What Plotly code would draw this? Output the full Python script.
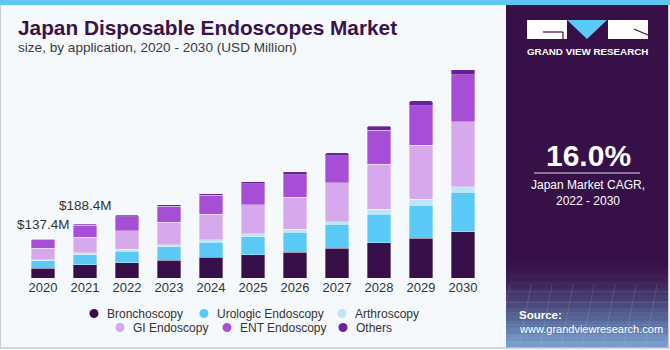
import plotly.graph_objects as go

# ---------------- data ----------------
years = ["2020", "2021", "2022", "2023", "2024", "2025", "2026", "2027", "2028", "2029", "2030"]
bronchoscopy = [33.8, 46.2, 53.6, 63.0, 72.1, 81.6, 91.0, 105.0, 123.6, 140.0, 162.0]
urologic = [26.0, 34.7, 39.6, 46.6, 53.9, 63.0, 68.6, 82.6, 99.0, 115.5, 137.6]
arthroscopy = [4.6, 6.9, 7.0, 7.0, 8.0, 10.5, 11.9, 9.5, 18.9, 19.6, 20.0]
gi = [39.8, 55.5, 65.5, 78.0, 90.0, 100.5, 112.0, 135.5, 157.5, 190.4, 227.5]
ent = [30.6, 40.6, 49.0, 56.0, 65.1, 74.6, 78.0, 94.5, 117.6, 137.6, 163.5]
others = [2.6, 4.5, 4.6, 6.0, 6.0, 7.0, 10.5, 10.5, 15.4, 16.5, 18.6]

series_names = ["Bronchoscopy", "Urologic Endoscopy", "Arthroscopy",
                "GI Endoscopy", "ENT Endoscopy", "Others"]
series_values = [bronchoscopy, urologic, arthroscopy, gi, ent, others]
series_colors = ["#37104A", "#5BC9F5", "#BDE7F7", "#D6A8EC", "#A64FD6", "#6C1F9C"]

label_years = ["2020", "2021"]
label_texts = ["$137.4M", "$188.4M"]

title_text = "Japan Disposable Endoscopes Market"
subtitle_text = "size, by application, 2020 - 2030 (USD Million)"
cagr_text = "16.0%"
cagr_caption = "Japan Market CAGR,<br>2022 - 2030"
brand_text = "GRAND VIEW RESEARCH"
source_label = "Source:"
source_url = "www.grandviewresearch.com"

# ---------------- layout geometry (pixels) ----------------
W, H = 670, 350
ML, MR, MT, MB = 22, 186, 62, 72
PW = W - ML - MR
PH = H - MT - MB
FONT = "Liberation Sans, Arial, sans-serif"


def px(x):
    return (x - ML) / PW


def py(y):
    return (H - MB - y) / PH


fig = go.Figure()
for name, vals, col in zip(series_names, series_values, series_colors):
    fig.add_trace(go.Bar(
        x=years, y=vals, name=name,
        marker=dict(color=col, line=dict(color="rgba(255,255,255,0.55)", width=0.6)),
        showlegend=False, hovertemplate="%{x}: %{y}<extra>" + name + "</extra>",
    ))

shapes = []
annotations = []

# top strip and borders
shapes.append(dict(type="rect", xref="paper", yref="paper", x0=px(0), x1=px(W), y0=py(5), y1=py(0),
                   fillcolor="#5EC6F0", line=dict(width=0), layer="below"))
shapes.append(dict(type="line", xref="paper", yref="paper", x0=px(0.5), x1=px(0.5), y0=py(5), y1=py(348),
                   line=dict(color="#C8CDD2", width=1)))
shapes.append(dict(type="line", xref="paper", yref="paper", x0=px(0), x1=px(W), y0=py(348), y1=py(348),
                   line=dict(color="#C8CDD2", width=1.5)))

# right panel
shapes.append(dict(type="rect", xref="paper", yref="paper", x0=px(506), x1=px(668), y0=py(347), y1=py(5),
                   fillcolor="#371047", line=dict(width=0)))
grad = ["#391349", "#3B184E", "#3E1F55", "#40285C", "#433265", "#473D70", "#4B497B",
        "#505688", "#566495", "#5D72A3", "#6581B1", "#6E8FBF", "#789DCB"]
y_start, y_end = 262, 347
step = (y_end - y_start) / len(grad)
for i, c in enumerate(grad):
    shapes.append(dict(type="rect", xref="paper", yref="paper", x0=px(506), x1=px(668),
                       y0=py(y_start + (i + 1) * step + 0.5), y1=py(y_start + i * step),
                       fillcolor=c, line=dict(width=0)))
# faint grid in panel bottom
for k in range(8):
    xx = 510 + k * 21
    shapes.append(dict(type="line", xref="paper", yref="paper", x0=px(xx), x1=px(xx - 12), y0=py(285), y1=py(347),
                       line=dict(color="rgba(200,220,255,0.15)", width=1)))
for yy in [292, 302, 313, 325, 338]:
    shapes.append(dict(type="line", xref="paper", yref="paper", x0=px(506), x1=px(668), y0=py(yy), y1=py(yy),
                       line=dict(color="rgba(200,220,255,0.15)", width=1)))
shapes.append(dict(type="line", xref="paper", yref="paper", x0=px(668.5), x1=px(668.5), y0=py(5), y1=py(348),
                   line=dict(color="#C8CDD2", width=1)))

# logo
shapes.append(dict(type="rect", xref="paper", yref="paper", x0=px(527), x1=px(567), y0=py(39), y1=py(20),
                   fillcolor="white", line=dict(width=0)))
shapes.append(dict(type="line", xref="paper", yref="paper", x0=px(543), x1=px(563), y0=py(32), y1=py(32),
                   line=dict(color="#371047", width=1.2)))
shapes.append(dict(type="line", xref="paper", yref="paper", x0=px(563), x1=px(563), y0=py(32), y1=py(39),
                   line=dict(color="#371047", width=1.2)))
shapes.append(dict(type="path", xref="paper", yref="paper",
                   path=f"M {px(567)},{py(20)} L {px(607)},{py(20)} L {px(587)},{py(39)} Z",
                   fillcolor="#5BC9F5", line=dict(width=0)))
shapes.append(dict(type="rect", xref="paper", yref="paper", x0=px(608), x1=px(648), y0=py(39), y1=py(20),
                   fillcolor="white", line=dict(width=0)))
shapes.append(dict(type="line", xref="paper", yref="paper", x0=px(634), x1=px(648), y0=py(29), y1=py(35),
                   line=dict(color="#371047", width=1.2)))
annotations.append(dict(text="<b>" + brand_text + "</b>", xref="paper", yref="paper", x=px(587.5), y=py(51),
                        showarrow=False, xanchor="center", yanchor="middle",
                        font=dict(family=FONT, size=9.8, color="white")))

# CAGR
annotations.append(dict(text="<b>" + cagr_text + "</b>", xref="paper", yref="paper", x=px(588), y=py(155),
                        showarrow=False, xanchor="center", yanchor="middle",
                        font=dict(family=FONT, size=30, color="white")))
shapes.append(dict(type="line", xref="paper", yref="paper", x0=px(534), x1=px(640), y0=py(173), y1=py(173),
                   line=dict(color="rgba(255,255,255,0.85)", width=1.2)))
annotations.append(dict(text=cagr_caption, xref="paper", yref="paper", x=px(588), y=py(193),
                        showarrow=False, xanchor="center", yanchor="middle", align="center",
                        font=dict(family=FONT, size=12, color="white")))
annotations.append(dict(text="<b>" + source_label + "</b>", xref="paper", yref="paper", x=px(517), y=py(315),
                        showarrow=False, xanchor="left", yanchor="middle",
                        font=dict(family=FONT, size=11.5, color="white")))
annotations.append(dict(text=source_url, xref="paper", yref="paper", x=px(517), y=py(329),
                        showarrow=False, xanchor="left", yanchor="middle",
                        font=dict(family=FONT, size=11, color="white")))

# titles
annotations.append(dict(text="<b>" + title_text + "</b>", xref="paper", yref="paper", x=px(16), y=py(27),
                        showarrow=False, xanchor="left", yanchor="middle",
                        font=dict(family=FONT, size=20.8, color="#3B1248")))
annotations.append(dict(text=subtitle_text, xref="paper", yref="paper", x=px(16), y=py(48),
                        showarrow=False, xanchor="left", yanchor="middle",
                        font=dict(family=FONT, size=13.6, color="#3A3A3A")))

# value labels
totals = [sum(v) for v in zip(*series_values)]
label_shift = [14.5, 19]
for yr, txt, sh in zip(label_years, label_texts, label_shift):
    i = years.index(yr)
    annotations.append(dict(text=txt, x=i, y=totals[i], xref="x", yref="y", showarrow=False,
                            xanchor="center", yanchor="middle", yshift=sh,
                            font=dict(family=FONT, size=13.5, color="#333333")))

# legend (manual, two centered rows)
legend_rows = [
    [(0, 94), (1, 204), (2, 342)],
    [(3, 120), (4, 227), (5, 343)],
]
row_y = [313.5, 327.5]
for row, yy in zip(legend_rows, row_y):
    for idx, xx in row:
        r = 4.5
        shapes.append(dict(type="circle", xref="paper", yref="paper",
                           x0=px(xx - r), x1=px(xx + r), y0=py(yy + r), y1=py(yy - r),
                           fillcolor=series_colors[idx], line=dict(width=0)))
        annotations.append(dict(text=series_names[idx], xref="paper", yref="paper", x=px(xx + 11), y=py(yy),
                                showarrow=False, xanchor="left", yanchor="middle",
                                font=dict(family=FONT, size=12, color="#333333")))

fig.update_layout(
    width=W, height=H,
    margin=dict(l=ML, r=MR, t=MT, b=MB, pad=0),
    paper_bgcolor="#F5F9FC", plot_bgcolor="#F5F9FC",
    barmode="stack", bargap=0.43, barcornerradius=2,
    showlegend=False,
    xaxis=dict(type="category", categoryorder="array", categoryarray=years,
               range=[-0.5, len(years) - 0.5], autorange=False,
               showgrid=False, zeroline=False, showline=False, ticks="",
               tickfont=dict(family=FONT, size=13, color="#333333"), ticklabelstandoff=0),
    yaxis=dict(range=[0, PH * 3.5], autorange=False, visible=False, showgrid=False, zeroline=False),
    shapes=shapes, annotations=annotations,
    font=dict(family=FONT),
)

fig.write_html("out.html")
